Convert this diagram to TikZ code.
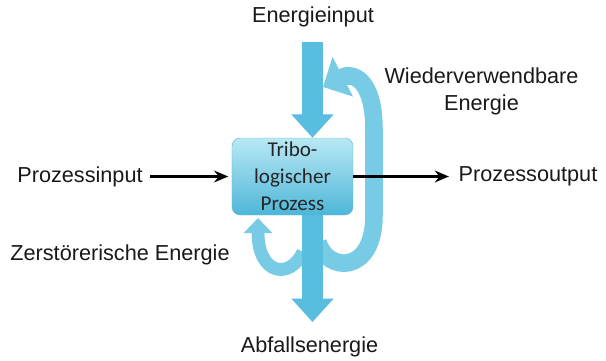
\documentclass[tikz,border=0pt]{standalone}
\usepackage{fontspec}
\setmainfont{Liberation Sans}
\newfontfamily\boxfont{Carlito}
\usetikzlibrary{arrows.meta, backgrounds}
\definecolor{flowblue}{RGB}{88,189,222}
\definecolor{loopblue}{RGB}{120,203,228}
\definecolor{boxtop}{RGB}{185,232,244}
\definecolor{boxbottom}{RGB}{78,182,216}
\definecolor{boxedge}{RGB}{100,188,218}

\begin{document}
\begin{tikzpicture}[x=0.03cm, y=-0.03cm, thick, >=Stealth]
  \tikzstyle{label} = [font=\fontsize{18.5}{23}\selectfont, text=black!90, align=center, inner sep=0pt]
  \tikzstyle{process} = [rectangle, draw=boxedge, thin, top color=boxtop, bottom color=boxbottom, rounded corners=7pt, minimum width=3.63cm, minimum height=2.31cm, font=\boxfont\fontsize{18}{23}\selectfont, text=black!85, align=center]
  \tikzstyle{flow} = [draw=flowblue, line width=18pt, -{Triangle[width=35pt, length=20pt]}]
  \tikzstyle{reuse} = [draw=loopblue, line width=15pt, -{Triangle[width=37pt, length=19pt]}]
  \tikzstyle{loss} = [draw=loopblue, line width=11pt, -{Triangle[width=24pt, length=13pt]}]
  \tikzstyle{line} = [draw, line width=2.3pt, -{Stealth[length=12pt, width=10pt]}]

  \useasboundingbox (0,0) rectangle (606,361);

  \node [process] (proc) at (292.5,176.5) {Tribo-\\logischer\\Prozess};
  \node [label] (ein) at (313,17) {Energieinput};
  \node [label] (abf) at (309.5,347) {Abfallsenergie};
  \node [label, left of=proc, node distance=6.375cm] (pin) {Prozessinput};
  \node [label, right of=proc, node distance=7.065cm] (pout) {Prozessoutput};
  \node [label] (wieder) at (481.5,91) {Wiederverwendbare\\Energie};
  \node [label] (zer) at (120,255) {Zerstörerische Energie};

  \coordinate (ein-start) at (312.5,42);
  \coordinate (abf-end) at (312.5,322);
  \coordinate (reuse-start) at (318,242);
  \coordinate (reuse-end) at (323,87);
  \coordinate (loss-start) at (303,252);
  \coordinate (loss-end) at (258,218);

  \begin{pgfonlayer}{background}
    \path [reuse] (reuse-start) .. controls (326,272) and (374,276) .. (374,215) -- (374,130) .. controls (374,78) and (352,72) .. (reuse-end);
    \path [loss] (loss-start) .. controls (290,280) and (258,275) .. (loss-end);
    \path [flow] (ein-start) -- (ein-start |- proc.north);
    \path [flow] (abf-end |- proc.south) -- (abf-end);
  \end{pgfonlayer}

  \path [line, shorten <=6pt, shorten >=3pt] (pin) -- (proc);
  \path [line, shorten >=8pt] (proc.east) -- (pout);
\end{tikzpicture}
\end{document}
